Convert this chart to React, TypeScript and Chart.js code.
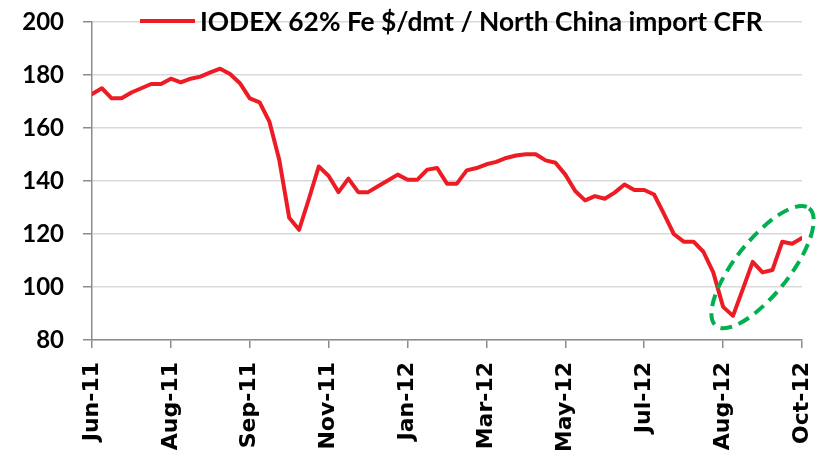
import React, { useEffect, useRef } from "react";
import { Chart, registerables } from "chart.js";

Chart.register(...registerables);

const tickLabels = ["Jun-11", "Aug-11", "Sep-11", "Nov-11", "Jan-12", "Mar-12", "May-12", "Jul-12", "Aug-12", "Oct-12"];
const pointsPerLabel = 8;
const seriesName = "IODEX 62% Fe $/dmt / North China import CFR";
const prices = [
  172.8, 175.0, 171.2, 171.2, 173.4, 175.0, 176.6, 176.6, 178.6, 177.2,
  178.6, 179.4, 181.0, 182.4, 180.4, 176.9, 171.2, 169.7, 162.3, 147.8,
  126.1, 121.6, 133.3, 145.5, 141.9, 135.8, 140.9, 135.8, 135.8, 138.0,
  140.2, 142.4, 140.5, 140.5, 144.3, 144.9, 139.0, 139.0, 144.0, 144.9,
  146.3, 147.2, 148.7, 149.6, 150.1, 150.1, 147.8, 146.9, 142.4, 136.2,
  132.7, 134.3, 133.3, 135.6, 138.7, 136.6, 136.6, 134.9, 127.6, 120.0,
  117.1, 117.1, 113.3, 105.5, 92.5, 89.1, 99.2, 109.5, 105.5, 106.4,
  117.1, 116.3, 118.5,
];
const yMin = 80;
const yMax = 200;
const yStep = 20;
// highlight ellipse centre, in data units
const highlightCenter = { x: 68, y: 107.5 };

const ellipsePlugin = {
  id: "highlightEllipse",
  afterDatasetsDraw(chart: any) {
    const { ctx, scales } = chart;
    const cx = scales.x.getPixelForValue(highlightCenter.x);
    const cy = scales.y.getPixelForValue(highlightCenter.y);
    ctx.save();
    ctx.beginPath();
    ctx.ellipse(cx, cy, 75, 27, (-51.6 * Math.PI) / 180, 0, Math.PI * 2);
    ctx.setLineDash([12, 7]);
    ctx.lineWidth = 4;
    ctx.strokeStyle = "#00b050";
    ctx.stroke();
    ctx.restore();
  },
};

const legendPlugin = {
  id: "inlineLegend",
  afterDraw(chart: any) {
    const { ctx, chartArea } = chart;
    const y = chartArea.top - 1;
    const x0 = chartArea.left + 48;
    ctx.save();
    ctx.strokeStyle = "#ed1c24";
    ctx.lineWidth = 4;
    ctx.beginPath();
    ctx.moveTo(x0, y);
    ctx.lineTo(x0 + 55, y);
    ctx.stroke();
    let size = 26;
    ctx.font = `bold ${size}px Lato`;
    const w = ctx.measureText(seriesName).width;
    size = (size * 563) / w;
    ctx.font = `bold ${size}px Lato`;
    ctx.fillStyle = "#000";
    ctx.textBaseline = "middle";
    ctx.textAlign = "left";
    ctx.fillText(seriesName, x0 + 60, y + 1);
    ctx.restore();
  },
};

export default function App() {
  const ref = useRef<HTMLCanvasElement | null>(null);
  useEffect(() => {
    if (!ref.current) return;
    const chart = new Chart(ref.current, {
      type: "line",
      data: {
        datasets: [
          {
            label: seriesName,
            data: prices.map((v, i) => ({ x: i, y: v })),
            borderColor: "#ed1c24",
            borderWidth: 4,
            pointRadius: 0,
            tension: 0,
            borderJoinStyle: "round",
            borderCapStyle: "round",
          },
        ],
      },
      options: {
        responsive: false,
        animation: false,
        devicePixelRatio: 1,
        layout: { padding: { left: 0, top: 22, right: 24, bottom: 0 } },
        plugins: { legend: { display: false }, tooltip: { enabled: false } },
        scales: {
          x: {
            type: "linear",
            min: 0,
            max: (tickLabels.length - 1) * pointsPerLabel,
            afterFit: (s: any) => {
              s.height = 110;
              s.paddingLeft = 0;
              s.paddingRight = 0;
              s.paddingTop = 0;
              s.paddingBottom = 0;
            },
            ticks: {
              stepSize: pointsPerLabel,
              autoSkip: false,
              maxRotation: 90,
              minRotation: 90,
              padding: 14,
              color: "#000",
              font: { family: "DejaVu Sans", weight: "bold", size: 22 },
              callback: (v: any) => tickLabels[Math.round(Number(v) / pointsPerLabel)],
            },
            grid: { drawOnChartArea: false, tickLength: 8, tickColor: "#8c8c8c", lineWidth: 1.5 },
            border: { color: "#8c8c8c", width: 1.5 },
          },
          y: {
            min: yMin,
            max: yMax,
            afterFit: (s: any) => {
              s.width = 92;
              s.paddingLeft = 0;
              s.paddingRight = 0;
              s.paddingTop = 0;
              s.paddingBottom = 0;
            },
            ticks: {
              stepSize: yStep,
              padding: 19,
              color: "#000",
              font: { family: "Lato", weight: "bold", size: 24 },
            },
            grid: { color: "#d9d9d9", lineWidth: 1.5, tickLength: 9, tickColor: "#8c8c8c" },
            border: { color: "#8c8c8c", width: 1.5 },
          },
        },
      },
      plugins: [ellipsePlugin, legendPlugin],
    } as any);
    return () => chart.destroy();
  }, []);
  return (
    <div style={{ position: "absolute", left: 0, top: 0, width: 826, height: 450, background: "#fff" }}>
      <canvas ref={ref} width={826} height={450} style={{ display: "block" }} />
    </div>
  );
}
